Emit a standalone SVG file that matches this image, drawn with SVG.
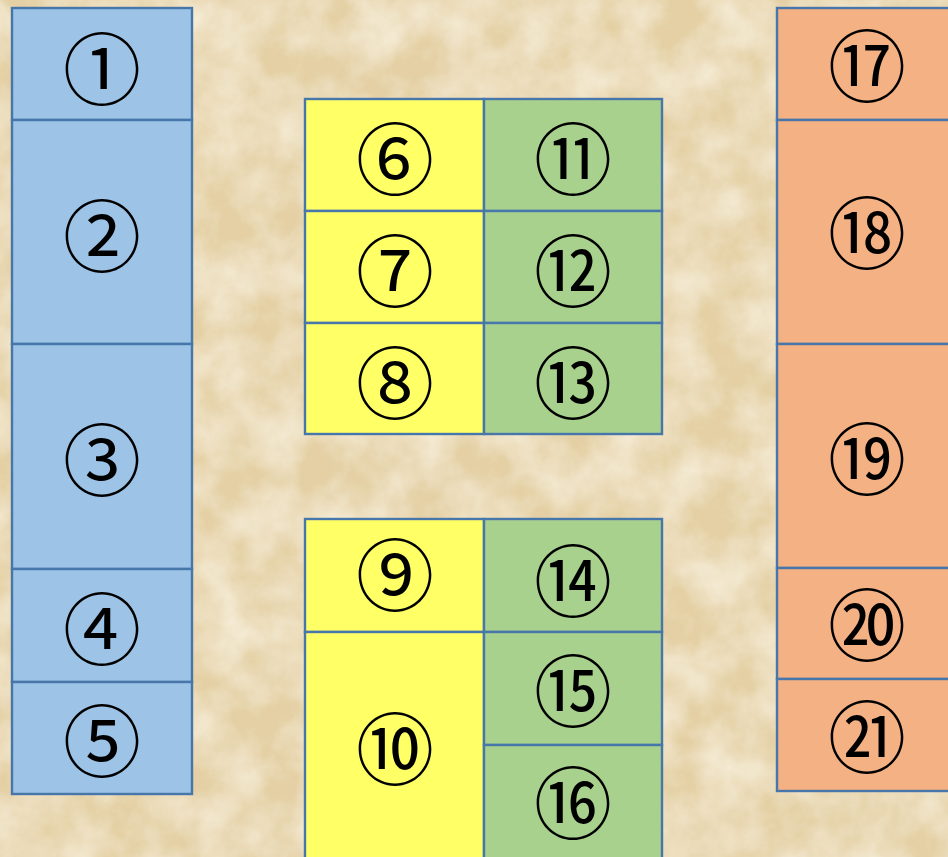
<svg xmlns="http://www.w3.org/2000/svg" width="948" height="857" viewBox="0 0 948 857">
<defs>
<filter id="paper" x="0" y="0" width="100%" height="100%">
<feTurbulence type="fractalNoise" baseFrequency="0.02" numOctaves="5" seed="7" result="n"/>
<feColorMatrix in="n" type="matrix" values="0 0 0 0 0.94  0 0 0 0 0.87  0 0 0 0 0.72  0 0 0 -1.4 1.0" result="c"/>
<feComposite in="c" in2="SourceGraphic" operator="over"/>
</filter>
<style>
.b{stroke:#4676AA;stroke-width:2.4}
.blue{fill:#9DC3E6}.yel{fill:#FFFF66}.grn{fill:#A9D18E}.org{fill:#F4B183}
text{font-family:"Noto Sans CJK JP","Noto Sans CJK SC",sans-serif;font-size:78px;fill:#000;text-anchor:middle;dominant-baseline:central}
</style>
</defs>
<rect width="948" height="857" fill="#E4D0A4"/>
<rect width="948" height="857" fill="#E4D0A4" filter="url(#paper)"/>
<g id="n1"><rect class="b blue" x="12" y="8" width="180" height="112"/><text x="102" y="65">①</text></g>
<g id="n2"><rect class="b blue" x="12" y="120" width="180" height="224"/><text x="102" y="232">②</text></g>
<g id="n3"><rect class="b blue" x="12" y="344" width="180" height="225"/><text x="102" y="456">③</text></g>
<g id="n4"><rect class="b blue" x="12" y="569" width="180" height="113"/><text x="102" y="625">④</text></g>
<g id="n5"><rect class="b blue" x="12" y="682" width="180" height="112"/><text x="102" y="737">⑤</text></g>
<g id="n6"><rect class="b yel" x="305" y="99" width="179" height="112"/><text x="395" y="155">⑥</text></g>
<g id="n7"><rect class="b yel" x="305" y="211" width="179" height="112"/><text x="395" y="267">⑦</text></g>
<g id="n8"><rect class="b yel" x="305" y="323" width="179" height="111"/><text x="395" y="379">⑧</text></g>
<g id="n11"><rect class="b grn" x="484" y="99" width="178" height="112"/><text x="573" y="155">⑪</text></g>
<g id="n12"><rect class="b grn" x="484" y="211" width="178" height="112"/><text x="573" y="267">⑫</text></g>
<g id="n13"><rect class="b grn" x="484" y="323" width="178" height="111"/><text x="573" y="379">⑬</text></g>
<g id="n9"><rect class="b yel" x="305" y="519" width="179" height="113"/><text x="395" y="571">⑨</text></g>
<g id="n10"><rect class="b yel" x="305" y="632" width="179" height="230"/><text x="395" y="745">⑩</text></g>
<g id="n14"><rect class="b grn" x="484" y="519" width="178" height="113"/><text x="573" y="577">⑭</text></g>
<g id="n15"><rect class="b grn" x="484" y="632" width="178" height="113"/><text x="573" y="687">⑮</text></g>
<g id="n16"><rect class="b grn" x="484" y="745" width="178" height="117"/><text x="573" y="799">⑯</text></g>
<g id="n17"><rect class="b org" x="777" y="8" width="180" height="112"/><text x="867" y="62">⑰</text></g>
<g id="n18"><rect class="b org" x="777" y="120" width="180" height="224"/><text x="867" y="229">⑱</text></g>
<g id="n19"><rect class="b org" x="777" y="344" width="180" height="224"/><text x="867" y="455">⑲</text></g>
<g id="n20"><rect class="b org" x="777" y="568" width="180" height="111"/><text x="867" y="621">⑳</text></g>
<g id="n21"><rect class="b org" x="777" y="679" width="180" height="112"/><text x="867" y="733">㉑</text></g>
<g id="connectors"/>
</svg>
